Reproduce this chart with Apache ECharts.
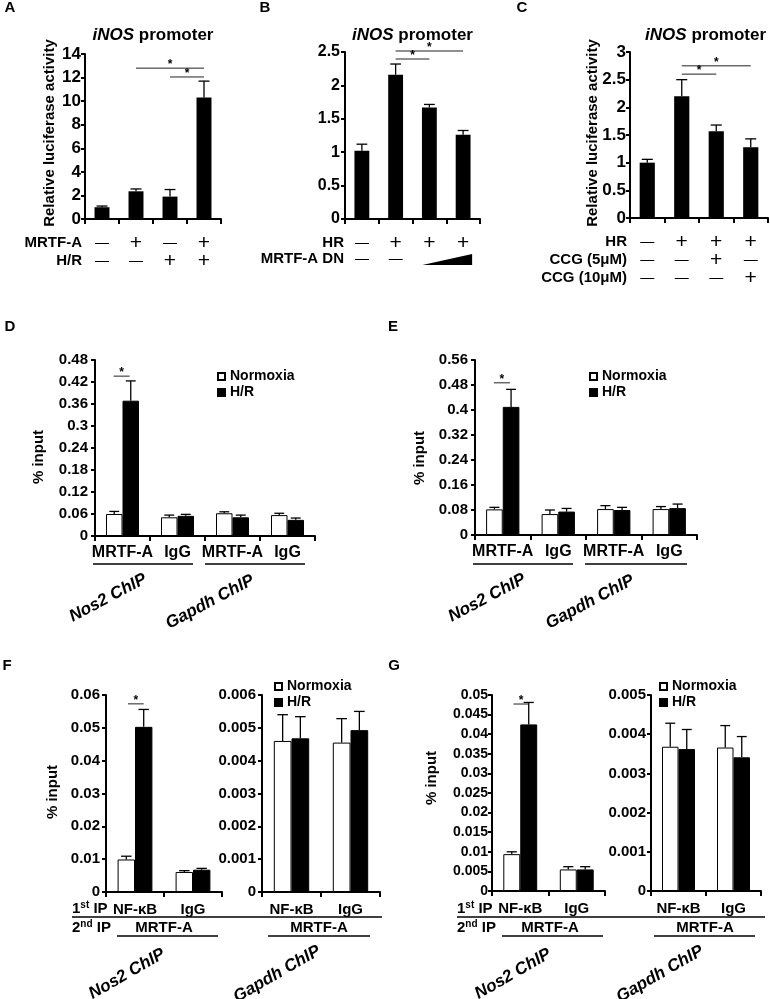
<!DOCTYPE html>
<html><head><meta charset="utf-8">
<script src="https://cdn.jsdelivr.net/npm/echarts@6/dist/echarts.min.js"></script>
<style>html,body{margin:0;padding:0;background:#fff}#c{width:770px;height:999px}</style>
</head><body><div id="c"></div>
<script>
// ---------- DATA ----------
// Panel A
const catsA = ['ctrl', 'MRTF-A', 'H/R', 'MRTF-A + H/R'];
const valsA = [1.0, 2.35, 1.9, 10.3];
const errA = [0.1, 0.2, 0.6, 1.4];
const rowA1 = ['—', '+', '—', '+'];
const rowA2 = ['—', '—', '+', '+'];
// Panel B
const catsB = ['ctrl', 'HR', 'HR + DN low', 'HR + DN high'];
const valsB = [1.02, 2.16, 1.67, 1.26];
const errB = [0.1, 0.16, 0.045, 0.065];
const rowB1 = ['—', '+', '+', '+'];
const rowB2 = ['—', '—', '', ''];
// Panel C
const catsC = ['ctrl', 'HR', 'HR + CCG 5', 'HR + CCG 10'];
const valsC = [1.0, 2.2, 1.57, 1.28];
const errC = [0.06, 0.3, 0.11, 0.15];
const rowC1 = ['—', '+', '+', '+'];
const rowC2 = ['—', '—', '+', '—'];
const rowC3 = ['—', '—', '—', '+'];
// Panel D
const catsD = ['MRTF-A', 'IgG', 'MRTF-A', 'IgG'];
const normD = [0.060, 0.051, 0.062, 0.057];
const normErrD = [0.007, 0.006, 0.004, 0.005];
const hrD = [0.369, 0.055, 0.051, 0.044];
const hrErrD = [0.054, 0.004, 0.006, 0.005];
// Panel E
const catsE = ['MRTF-A', 'IgG', 'MRTF-A', 'IgG'];
const normE = [0.082, 0.067, 0.083, 0.083];
const normErrE = [0.0065, 0.013, 0.011, 0.008];
const hrE = [0.41, 0.075, 0.08, 0.086];
const hrErrE = [0.056, 0.01, 0.0085, 0.013];
// Panel F
const catsF = ['NF-κB', 'IgG'];
const normF1 = [0.0099, 0.0061];
const normErrF1 = [0.001, 0.0004];
const hrF1 = [0.0503, 0.0068];
const hrErrF1 = [0.0053, 0.0004];
const normF2 = [0.0046, 0.00455];
const normErrF2 = [0.0008, 0.00073];
const hrF2 = [0.00468, 0.00493];
const hrErrF2 = [0.00066, 0.00057];
// Panel G
const catsG = ['NF-κB', 'IgG'];
const normG1 = [0.0094, 0.0055];
const normErrG1 = [0.0006, 0.0007];
const hrG1 = [0.0425, 0.0055];
const hrErrG1 = [0.0056, 0.0007];
const normG2 = [0.00368, 0.00366];
const normErrG2 = [0.0006, 0.00056];
const hrG2 = [0.00362, 0.00341];
const hrErrG2 = [0.0005, 0.00053];
// Axis ticks
const yMax = [14, 2.5, 3, 0.48, 0.56, 0.06, 0.006, 0.05, 0.005];
const yStep = [2, 0.5, 0.5, 0.06, 0.08, 0.01, 0.001, 0.005, 0.001];

// ---------- LAYOUT / STYLE ----------
const FF = '"Liberation Sans", Arial, Helvetica, sans-serif';
const grids = [
  {left: 85, top: 54, width: 136, height: 165},
  {left: 345, top: 52, width: 135, height: 167},
  {left: 630, top: 52, width: 138, height: 166},
  {left: 95, top: 360, width: 220, height: 176},
  {left: 475, top: 360, width: 222, height: 175},
  {left: 106, top: 695, width: 116, height: 197},
  {left: 262, top: 695, width: 118, height: 197},
  {left: 492, top: 695, width: 113, height: 196},
  {left: 651, top: 695, width: 110, height: 196}
];
const tickFont = [17, 16, 17, 15, 15, 15, 15, 14, 15];
const tickMargin = [4, 5, 4, 7, 7, 6, 6, 4, 5];
const xCats = [catsA, catsB, catsC, catsD, catsE, catsF, catsF, catsG, catsG];
const showXLabel = [false, false, false, true, true, true, true, true, true];

const fmt = v => String(+(+v).toFixed(6));

const xAxis = grids.map((g, i) => ({
  type: 'category', gridIndex: i, data: xCats[i],
  axisLine: {lineStyle: {color: '#000', width: 2}},
  axisTick: {show: true, length: 5, lineStyle: {color: '#000', width: 2}},
  axisLabel: {show: showXLabel[i], color: '#000', fontSize: i >= 5 ? 15 : 16, fontWeight: 'bold', fontFamily: FF, margin: i >= 5 ? 10 : 9, interval: 0},
  splitLine: {show: false}
}));
const yAxis = grids.map((g, i) => ({
  type: 'value', gridIndex: i, min: 0, max: yMax[i], interval: yStep[i],
  axisLine: {show: true, lineStyle: {color: '#000', width: 2}},
  axisTick: {show: true, length: 4, lineStyle: {color: '#000', width: 2}},
  axisLabel: {color: '#000', fontSize: tickFont[i], fontWeight: 'bold', fontFamily: FF, margin: tickMargin[i], formatter: fmt},
  splitLine: {show: false}
}));

function errSeries(gi, vals, errs, off, capHalf) {
  return {
    type: 'custom', name: 'err' + gi + '_' + off, xAxisIndex: gi, yAxisIndex: gi, silent: true, z: 1,
    data: vals.map((v, k) => [k, v, errs[k]]),
    encode: {x: 0, y: 1},
    renderItem: function (params, api) {
      const c = api.value(0), v = api.value(1), e = api.value(2);
      const base = api.coord([c, v]);
      const top = api.coord([c, v + e]);
      const band = api.size([1, 0])[0];
      const x = base[0] + off * band;
      const hw = capHalf * band;
      return {type: 'group', children: [
        {type: 'line', shape: {x1: x, y1: base[1], x2: x, y2: top[1]}, style: {stroke: '#000', lineWidth: 1.3}},
        {type: 'line', shape: {x1: x - hw, y1: top[1], x2: x + hw, y2: top[1]}, style: {stroke: '#000', lineWidth: 1.3}}
      ]};
    }
  };
}
function singleBar(gi, vals, name) {
  return {type: 'bar', name: name, xAxisIndex: gi, yAxisIndex: gi, data: vals, barCategoryGap: '56%',
    itemStyle: {color: '#000'}, z: 2};
}
function pairBars(gi, nv, hv) {
  return [
    {type: 'bar', name: 'Normoxia', xAxisIndex: gi, yAxisIndex: gi, data: nv, barGap: '0%', barCategoryGap: '40%',
      itemStyle: {color: '#fff', borderColor: '#000', borderWidth: 1}, z: 2},
    {type: 'bar', name: 'H/R', xAxisIndex: gi, yAxisIndex: gi, data: hv, barGap: '0%', barCategoryGap: '40%',
      itemStyle: {color: '#000', borderColor: '#000', borderWidth: 1}, z: 2}
  ];
}
const series = [
  singleBar(0, valsA, 'A'), errSeries(0, valsA, errA, 0, 0.16),
  singleBar(1, valsB, 'B'), errSeries(1, valsB, errB, 0, 0.16),
  singleBar(2, valsC, 'C'), errSeries(2, valsC, errC, 0, 0.16),
  ...pairBars(3, normD, hrD), errSeries(3, normD, normErrD, -0.15, 0.09), errSeries(3, hrD, hrErrD, 0.15, 0.09),
  ...pairBars(4, normE, hrE), errSeries(4, normE, normErrE, -0.15, 0.09), errSeries(4, hrE, hrErrE, 0.15, 0.09),
  ...pairBars(5, normF1, hrF1), errSeries(5, normF1, normErrF1, -0.15, 0.09), errSeries(5, hrF1, hrErrF1, 0.15, 0.09),
  ...pairBars(6, normF2, hrF2), errSeries(6, normF2, normErrF2, -0.15, 0.09), errSeries(6, hrF2, hrErrF2, 0.15, 0.09),
  ...pairBars(7, normG1, hrG1), errSeries(7, normG1, normErrG1, -0.15, 0.09), errSeries(7, hrG1, hrErrG1, 0.15, 0.09),
  ...pairBars(8, normG2, hrG2), errSeries(8, normG2, normErrG2, -0.15, 0.09), errSeries(8, hrG2, hrErrG2, 0.15, 0.09)
];
function legendAt(left, top) {
  return {data: ['Normoxia', 'H/R'], left: left, top: top, orient: 'vertical', icon: 'rect',
    itemWidth: 7, itemHeight: 7, itemGap: 1, selectedMode: false, padding: 0,
    textStyle: {color: '#000', fontSize: 14, fontWeight: 'bold', fontFamily: FF, lineHeight: 15}};
}
const option = {
  animation: false,
  backgroundColor: '#fff',
  grid: grids,
  xAxis: xAxis,
  yAxis: yAxis,
  legend: [legendAt(217, 369), legendAt(589, 369), legendAt(274, 679), legendAt(659, 679)],
  series: series
};
const chart = echarts.init(document.getElementById('c'), null, {renderer: 'canvas'});
chart.setOption(option);

// ---------- ANNOTATIONS ----------
const els = [];
function P(gi, c, v) { return chart.convertToPixel({gridIndex: gi}, [c, v]); }
function bandW(gi) { return P(gi, 1, 0)[0] - P(gi, 0, 0)[0]; }
function T(x, y, text, font, align, extra, rich) {
  const st = {text: text, font: font, fill: '#000', align: align || 'left', textAlign: align || 'left',
    verticalAlign: 'middle', textVerticalAlign: 'middle'};
  if (rich) st.rich = rich;
  els.push(Object.assign({type: 'text', x: x, y: y, z: 100, style: st}, extra || {}));
}
function L(x1, y1, x2, y2, w, c) {
  els.push({type: 'line', z: 100, shape: {x1: x1, y1: y1, x2: x2, y2: y2}, style: {stroke: c || '#000', lineWidth: w || 1}});
}
const B = s => 'bold ' + s + 'px ' + FF;
const N = s => s + 'px ' + FF;
const titleRich = {
  i: {fontStyle: 'italic', fontWeight: 'bold', fontSize: 17, fontFamily: FF},
  n: {fontStyle: 'normal', fontWeight: 'bold', fontSize: 17, fontFamily: FF}
};
// panel letters
[['A', 10, 8], ['B', 265, 8], ['C', 522, 8], ['D', 10, 327], ['E', 393, 327], ['F', 7, 666], ['G', 394, 666]]
  .forEach(p => T(p[1], p[2], p[0], B(15), 'center'));
// titles
T(grids[0].left + grids[0].width / 2, 35, '{i|iNOS}{n| promoter}', B(17), 'center', null, titleRich);
T(grids[1].left + grids[1].width / 2, 35, '{i|iNOS}{n| promoter}', B(17), 'center', null, titleRich);
T(766, 35, '{i|iNOS}{n| promoter}', B(17), 'right', null, titleRich);
// y axis names
const rot = {rotation: Math.PI / 2};
T(50, 133, 'Relative luciferase activity', B(15), 'center', rot);
T(593, 133, 'Relative luciferase activity', B(15), 'center', rot);
T(39, 457, '% input', B(15), 'center', rot);
T(420, 458, '% input', B(15), 'center', rot);
T(53, 792, '% input', B(15), 'center', rot);
T(432, 778, '% input', B(15), 'center', rot);

// significance bars [grid, catA, offA, catB, offB, yValue]
const sigs = [
  [0, 1, 0, 3, 0, 12.8], [0, 2, 0, 3, 0, 12.05],
  [1, 1, 0, 3, 0, 2.515], [1, 1, 0, 2, 0, 2.395],
  [2, 1, 0, 3, 0, 2.75], [2, 1, 0, 2, 0, 2.6],
  [3, 0, -0.16, 0, 0.13, 0.436],
  [4, 0, -0.16, 0, 0.13, 0.487],
  [5, 0, -0.12, 0, 0.15, 0.0573],
  [7, 0, -0.12, 0, 0.15, 0.0477]
];
sigs.forEach(s => {
  const bw = bandW(s[0]);
  const p1 = P(s[0], s[1], s[5]), p2 = P(s[0], s[3], s[5]);
  const x1 = p1[0] + s[2] * bw, x2 = p2[0] + s[4] * bw;
  L(x1, p1[1], x2, p1[1], 1, '#222');
  T((x1 + x2) / 2, p1[1] - 3, '*', B(12), 'center');
});

// +/- condition rows
function symRow(gi, label, syms, y, labelX) {
  T(labelX, y, label, B(15), 'right');
  syms.forEach((s, k) => {
    if (!s) return;
    const x = P(gi, k, 0)[0];
    if (s === '+') T(x, y, '+', N(21), 'center');
    else T(x, y, '—', N(14), 'center');
  });
}
symRow(0, 'MRTF-A', rowA1, 243, 82);
symRow(0, 'H/R', rowA2, 261, 82);
symRow(1, 'HR', rowB1, 243, 344);
symRow(1, 'MRTF-A DN', rowB2, 259, 344);
symRow(2, 'HR', rowC1, 242, 627);
symRow(2, 'CCG (5μM)', rowC2, 260, 627);
symRow(2, 'CCG (10μM)', rowC3, 278, 627);
// wedge for increasing MRTF-A DN
(function () {
  const xl = P(1, 2, 0)[0] - 7, xr = P(1, 3, 0)[0] + 9;
  els.push({type: 'polygon', z: 100, shape: {points: [[xl, 265], [xr, 254], [xr, 265]]}, style: {fill: '#000'}});
})();

// D / E group underlines and rotated group labels
const grpRot = {rotation: 28 * Math.PI / 180};
L(93, 564, 193, 564, 1.5); L(205, 564, 305, 564, 1.5);
T(108, 598, 'Nos2 ChIP', 'italic bold 17px ' + FF, 'center', grpRot);
T(210, 602, 'Gapdh ChIP', 'italic bold 17px ' + FF, 'center', grpRot);
L(473, 564, 573, 564, 1.5); L(585, 564, 687, 564, 1.5);
T(487, 598, 'Nos2 ChIP', 'italic bold 17px ' + FF, 'center', grpRot);
T(590, 602, 'Gapdh ChIP', 'italic bold 17px ' + FF, 'center', grpRot);

// F / G IP rows
const ipRich = {
  n: {fontWeight: 'bold', fontSize: 15, fontFamily: FF, lineHeight: 18},
  s: {fontWeight: 'bold', fontSize: 10, fontFamily: FF, lineHeight: 10, verticalAlign: 'top'}
};
function ipBlock(x0, xEnd, c1, c2, u1, u2, nosC, gapC) {
  T(x0, 909, '{n|1}{s|st}{n| IP}', B(15), 'left', null, ipRich);
  L(x0, 917, xEnd, 917, 1.5);
  T(x0, 928, '{n|2}{s|nd}{n| IP}', B(15), 'left', null, ipRich);
  T(c1, 928, 'MRTF-A', B(15), 'center');
  T(c2, 928, 'MRTF-A', B(15), 'center');
  L(u1[0], 936, u1[1], 936, 1.5); L(u2[0], 936, u2[1], 936, 1.5);
  const r = {rotation: 30 * Math.PI / 180};
  T(nosC[0], nosC[1], 'Nos2 ChIP', 'italic bold 17px ' + FF, 'center', r);
  T(gapC[0], gapC[1], 'Gapdh ChIP', 'italic bold 17px ' + FF, 'center', r);
}
ipBlock(72, 382, 164, 319, [117, 218], [268, 370], [127, 974], [277, 974]);
ipBlock(457, 765, 550, 705, [502, 603], [654, 755], [513, 974], [660, 974]);

chart.setOption({graphic: {elements: els}});
</script>
</body></html>
